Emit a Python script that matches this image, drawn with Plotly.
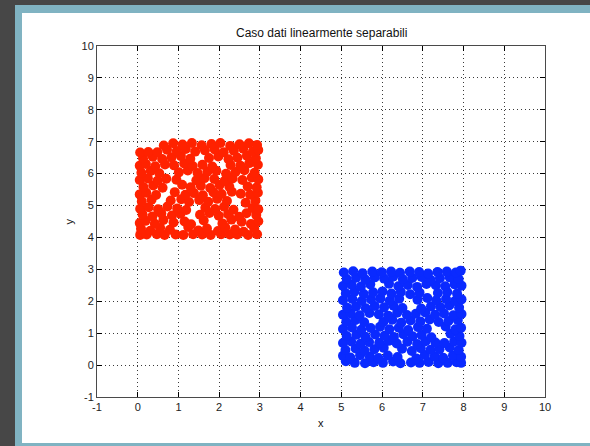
import plotly.graph_objects as go

# Class 1 (red): points in the square x in [0, 3], y in [4, 7]
red_x = [
    0.06, 0.22, 0.47, 0.66, 0.93, 1.12, 1.36, 1.58, 1.79, 2.05, 2.26, 2.44, 2.71, 2.93,
    0.08, 0.31, 0.55, 0.79, 1.24, 1.49, 1.70, 1.97, 2.15, 2.39, 2.60, 2.86,
    0.05, 0.19, 0.42, 0.63, 0.88, 1.15, 1.31, 1.62, 2.08, 2.30, 2.55, 2.78, 2.96,
    0.12, 0.36, 0.58, 0.84, 1.05, 1.53, 1.76, 1.99, 2.22, 2.49, 2.67, 2.91,
    0.06, 0.27, 0.50, 0.73, 0.97, 1.19, 1.66, 1.90, 2.12, 2.35, 2.82, 2.96,
    0.10, 0.34, 0.81, 1.07, 1.26, 1.51, 1.73, 1.95, 2.19, 2.65, 2.89,
    0.05, 0.21, 0.45, 0.91, 1.17, 1.38, 1.60, 1.86, 2.06, 2.31, 2.53, 2.76, 2.95,
    0.14, 0.38, 0.61, 1.09, 1.30, 1.55, 1.78, 2.01, 2.25, 2.70, 2.92,
    0.05, 0.25, 0.49, 0.70, 0.95, 1.44, 1.64, 1.88, 2.13, 2.33, 2.57, 2.80, 2.96,
    0.09, 0.32, 0.53, 1.01, 1.23, 1.47, 1.71, 1.93, 2.17, 2.40, 2.62, 2.87,
    0.05, 0.20, 0.43, 0.67, 0.89, 1.14, 1.35, 1.59, 1.83, 2.28, 2.52, 2.74, 2.95,
    0.13, 0.37, 0.60, 0.83, 1.06, 1.29, 1.75, 1.98, 2.23, 2.45, 2.68, 2.90,
    0.06, 0.26, 0.48, 0.72, 0.96, 1.18, 1.41, 1.65, 1.89, 2.11, 2.36, 2.59, 2.83, 2.96,
    0.64, 0.87, 1.10, 1.33, 1.57, 1.81, 2.03, 2.27, 2.50, 2.73, 2.93,
]
red_y = [
    4.08, 4.09, 4.10, 4.08, 4.09, 4.08, 4.10, 4.09, 4.08, 4.10, 4.09, 4.09, 4.08, 4.10,
    4.27, 4.21, 4.30, 4.24, 4.33, 4.22, 4.28, 4.20, 4.31, 4.25, 4.18, 4.29,
    4.45, 4.52, 4.43, 4.55, 4.47, 4.50, 4.41, 4.53, 4.44, 4.56, 4.49, 4.42, 4.51,
    4.72, 4.66, 4.75, 4.69, 4.74, 4.71, 4.77, 4.68, 4.73, 4.65, 4.76, 4.70,
    4.90, 4.95, 4.88, 4.97, 4.91, 4.86, 4.93, 4.89, 4.96, 4.87, 4.92, 4.88,
    5.13, 5.18, 5.16, 5.20, 5.11, 5.17, 5.12, 5.21, 5.14, 5.09, 5.15,
    5.35, 5.40, 5.33, 5.42, 5.34, 5.39, 5.32, 5.41, 5.36, 5.43, 5.37, 5.34, 5.40,
    5.58, 5.63, 5.56, 5.65, 5.57, 5.62, 5.55, 5.64, 5.59, 5.60, 5.57,
    5.80, 5.85, 5.78, 5.84, 5.81, 5.79, 5.86, 5.83, 5.77, 5.85, 5.80, 5.88, 5.82,
    6.03, 6.08, 6.01, 6.04, 6.10, 6.02, 6.06, 6.09, 6.00, 6.05, 6.11, 6.03,
    6.25, 6.30, 6.23, 6.29, 6.26, 6.32, 6.24, 6.28, 6.22, 6.27, 6.25, 6.33, 6.28,
    6.48, 6.53, 6.46, 6.51, 6.55, 6.47, 6.49, 6.54, 6.45, 6.50, 6.56, 6.48,
    6.66, 6.68, 6.67, 6.75, 6.71, 6.77, 6.69, 6.73, 6.76, 6.67, 6.72, 6.78, 6.70, 6.74,
    6.88, 6.95, 6.91, 6.96, 6.89, 6.93, 6.96, 6.87, 6.92, 6.95, 6.90,
]

# Class 2 (blue): points in the square x in [5, 8], y in [0, 3]
blue_x = [
    5.11, 5.33, 5.58, 5.79, 6.02, 6.27, 6.45, 6.71, 6.92, 7.14, 7.38, 7.61, 7.83, 7.94,
    5.04, 5.22, 5.46, 5.70, 5.91, 6.14, 6.38, 6.84, 7.05, 7.29, 7.50, 7.74, 7.94,
    5.10, 5.35, 5.57, 5.81, 6.04, 6.49, 6.73, 6.95, 7.19, 7.41, 7.66, 7.88,
    5.04, 5.24, 5.47, 5.68, 5.93, 6.16, 6.36, 6.62, 6.86, 7.07, 7.31, 7.53, 7.77, 7.95,
    5.13, 5.37, 5.59, 5.83, 6.06, 6.29, 6.52, 6.75, 6.97, 7.21, 7.68, 7.90,
    5.04, 5.26, 5.49, 5.72, 5.95, 6.18, 6.41, 6.64, 6.88, 7.10, 7.56, 7.80, 7.94,
    5.12, 5.34, 5.56, 6.03, 6.25, 6.47, 6.70, 6.94, 7.17, 7.39, 7.63, 7.86,
    5.04, 5.23, 5.45, 5.69, 5.92, 6.15, 6.37, 6.61, 6.83, 7.06, 7.30, 7.52, 7.75, 7.95,
    5.14, 5.36, 5.60, 5.82, 6.05, 6.28, 6.50, 6.96, 7.20, 7.43, 7.65, 7.89,
    5.04, 5.27, 5.50, 5.73, 5.96, 6.19, 6.42, 6.87, 7.11, 7.33, 7.57, 7.79, 7.95,
    5.11, 5.32, 5.55, 5.78, 6.01, 6.23, 6.46, 6.69, 6.92, 7.37, 7.60, 7.84,
    5.04, 5.25, 5.48, 5.71, 6.17, 6.40, 6.63, 6.86, 7.09, 7.32, 7.55, 7.78, 7.95,
    5.13, 5.36, 5.59, 5.82, 6.05, 6.27, 6.51, 6.74, 6.97, 7.19, 7.42, 7.66, 7.88,
    5.06, 5.29, 5.52, 5.76, 5.99, 6.22, 6.44, 6.68, 6.91, 7.13, 7.36, 7.59, 7.81, 7.93,
]
blue_y = [
    0.12, 0.07, 0.06, 0.09, 0.07, 0.11, 0.06, 0.08, 0.07, 0.10, 0.06, 0.07, 0.09, 0.07,
    0.29, 0.24, 0.31, 0.26, 0.22, 0.30, 0.25, 0.21, 0.32, 0.27, 0.23, 0.30, 0.26,
    0.47, 0.52, 0.45, 0.50, 0.54, 0.51, 0.44, 0.53, 0.48, 0.50, 0.55, 0.47,
    0.69, 0.74, 0.67, 0.72, 0.70, 0.76, 0.68, 0.73, 0.66, 0.75, 0.71, 0.69, 0.74, 0.70,
    0.91, 0.95, 0.89, 0.96, 0.92, 0.88, 0.97, 0.90, 0.94, 0.87, 0.98, 0.91,
    1.13, 1.18, 1.11, 1.16, 1.20, 1.12, 1.17, 1.10, 1.19, 1.14, 1.21, 1.12, 1.17,
    1.36, 1.41, 1.34, 1.35, 1.42, 1.33, 1.40, 1.37, 1.43, 1.35, 1.38, 1.41,
    1.58, 1.62, 1.56, 1.63, 1.59, 1.55, 1.64, 1.57, 1.61, 1.65, 1.58, 1.62, 1.56, 1.60,
    1.80, 1.84, 1.78, 1.85, 1.81, 1.86, 1.79, 1.77, 1.84, 1.82, 1.87, 1.80,
    2.03, 2.07, 2.01, 2.06, 2.09, 2.02, 2.08, 2.05, 2.10, 2.03, 2.07, 2.01, 2.06,
    2.25, 2.30, 2.23, 2.28, 2.31, 2.24, 2.29, 2.22, 2.27, 2.26, 2.29, 2.24,
    2.48, 2.52, 2.46, 2.53, 2.55, 2.47, 2.51, 2.45, 2.54, 2.50, 2.47, 2.53, 2.49,
    2.70, 2.74, 2.68, 2.75, 2.71, 2.77, 2.69, 2.73, 2.76, 2.67, 2.72, 2.75, 2.70,
    2.90, 2.94, 2.88, 2.93, 2.91, 2.93, 2.89, 2.93, 2.92, 2.87, 2.92, 2.93, 2.90, 2.96,
]

tick_vals = list(range(-1, 11))
tick_text = [str(v) for v in tick_vals]

W, H = 590, 446
L, R, T, B = 97, 45, 46, 49
PW, PH = W - L - R, H - T - B


def px_x(px):
    return (px - L) / PW


def px_y(py):
    return (H - B - py) / PH


FONT = "Liberation Sans, Arial, sans-serif"

fig = go.Figure()
fig.add_trace(go.Scatter(
    x=red_x, y=red_y, mode="markers",
    marker=dict(size=10, color="#ff2200", line=dict(width=0)),
    hoverinfo="skip", showlegend=False,
))
fig.add_trace(go.Scatter(
    x=blue_x, y=blue_y, mode="markers",
    marker=dict(size=10, color="#0a2aff", line=dict(width=0)),
    hoverinfo="skip", showlegend=False,
))

axis_common = dict(
    range=[-1, 10], tickmode="array", tickvals=tick_vals, ticktext=tick_text,
    showline=True, linecolor="#4a4a4a", linewidth=1, mirror="ticks",
    ticks="inside", ticklen=5, tickcolor="#000000", tickwidth=1,
    showgrid=True, gridcolor="#3a3a3a", gridwidth=1, griddash="1px,3px",
    zeroline=False, tickfont=dict(family=FONT, size=11, color="#222222"),
    fixedrange=True,
)

fig.update_layout(
    width=W, height=H,
    margin=dict(l=L, r=R, t=T, b=B, pad=0),
    paper_bgcolor="#474747", plot_bgcolor="#ffffff",
    xaxis=dict(axis_common),
    yaxis=dict(axis_common),
    shapes=[
        # window border
        dict(type="rect", xref="paper", yref="paper", layer="below",
             x0=px_x(15), x1=px_x(620), y0=px_y(470), y1=px_y(5),
             fillcolor="#80b3c2", line=dict(width=0)),
        # figure background
        dict(type="rect", xref="paper", yref="paper", layer="below",
             x0=px_x(22), x1=px_x(620), y0=px_y(443), y1=px_y(13),
             fillcolor="#ffffff", line=dict(width=0)),
    ],
    annotations=[
        dict(text="Caso dati linearmente separabili", xref="paper", yref="paper",
             x=0.5, y=px_y(33), xanchor="center", yanchor="middle", showarrow=False,
             font=dict(family=FONT, size=12, color="#111111")),
        dict(text="x", xref="paper", yref="paper",
             x=0.5, y=px_y(423), xanchor="center", yanchor="middle", showarrow=False,
             font=dict(family=FONT, size=11, color="#111111")),
        dict(text="y", xref="paper", yref="paper", textangle=-90,
             x=px_x(68), y=0.5, xanchor="center", yanchor="middle", showarrow=False,
             font=dict(family=FONT, size=11, color="#111111")),
    ],
)

fig.write_html("out.html", config={"displayModeBar": False})
